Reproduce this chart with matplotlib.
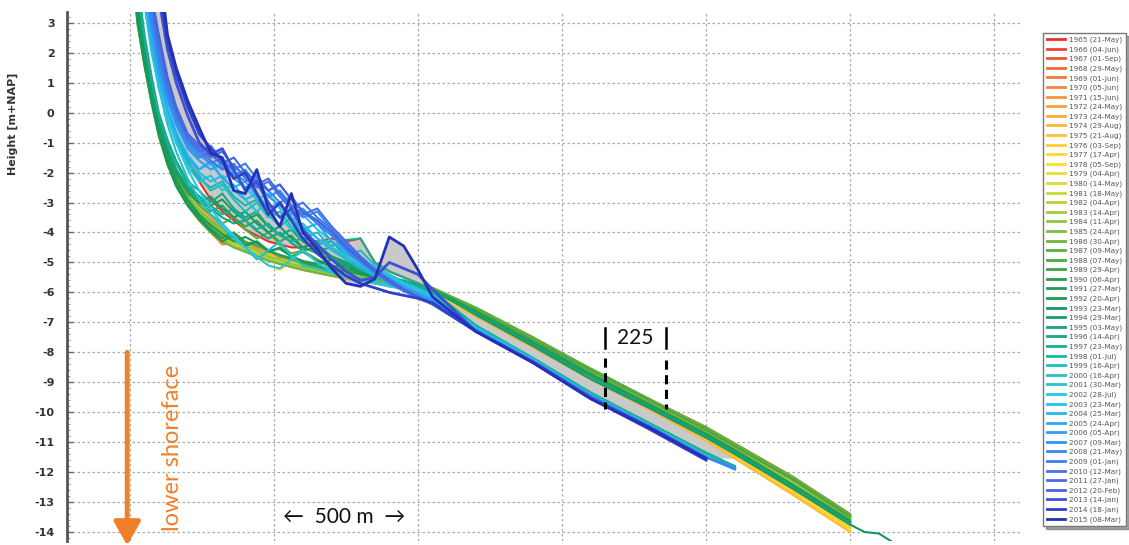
import numpy as np
import matplotlib.pyplot as plt
from matplotlib.colors import LinearSegmentedColormap
from matplotlib.ticker import MultipleLocator

plt.rcParams['axes.unicode_minus'] = False

nan = np.nan

# distance along the profile [m]: steep upper part and smooth lower part
dist_near = [0, 25, 50, 75, 100, 130, 160, 200, 240, 280, 320, 360, 400, 440,
             480, 520, 560, 600, 650, 700, 750, 800, 850, 900, 950, 1000, 1050]
dist_far = [1200, 1400, 1600, 1800, 2000, 2100, 2300, 2500, 2550, 2600, 2650]

years = list(range(1965, 2016))
dates = ['21-May', '04-Jun', '01-Sep', '29-May', '01-Jun', '05-Jun', '15-Jun', '24-May', '24-May', '29-Aug',
         '21-Aug', '03-Sep', '17-Apr', '05-Sep', '04-Apr', '14-May', '18-May', '04-Apr', '14-Apr', '11-Apr',
         '24-Apr', '30-Apr', '09-May', '07-May', '29-Apr', '06-Apr', '27-Mar', '20-Apr', '23-Mar', '29-Mar',
         '03-May', '14-Apr', '23-May', '01-Jul', '16-Apr', '16-Apr', '30-Mar', '28-Jul', '23-Mar', '25-Mar',
         '24-Apr', '05-Apr', '09-Mar', '21-May', '01-Jan', '12-Mar', '27-Jan', '20-Feb', '14-Jan', '18-Jan',
         '08-Mar']

# heights [m+NAP] at dist_near
near_1965_1979 = [
    [9.0, 8.0, 6.0, 3.5, 0.8, -0.05, -0.75, -1.6, -2.3, -2.9, -3.3, -3.6, -3.9, -4.1, -4.3, -4.4, -4.5, -4.5, -4.3, -4.2, -4.3, -4.2, -5.0, -5.3, -5.5, -5.7, -5.9],
    [6.0, 3.2, 1.7, 0.4, -0.7, -1.6, -2.3, -2.9, -3.5, -3.9, -4.35, -4.3, -4.6, -4.7, -4.9, -5.0, -5.1, -5.2, -5.3, -5.4, -5.5, -5.6, -5.7, -5.75, -5.8, -5.85, -5.95],
    [6.5, 3.7, 2.0, 0.7, -0.4, -1.4, -2.1, -2.8, -3.3, -3.8, -4.1, -4.4, -4.5, -4.75, -4.85, -5.0, -5.05, -5.15, -5.25, -5.35, -5.45, -5.55, -5.65, -5.7, -5.8, -5.85, -5.95],
    [6.2, 3.4, 1.8, 0.5, -0.6, -1.5, -2.2, -2.9, -3.4, -3.7, -4.2, -4.3, -4.5, -4.6, -4.8, -4.95, -5.1, -5.2, -5.25, -5.4, -5.5, -5.55, -5.65, -5.75, -5.8, -5.9, -6.0],
    [6.8, 4.0, 2.2, 0.9, -0.3, -1.3, -2.0, -2.7, -3.2, -3.6, -4.0, -4.2, -4.4, -4.55, -4.7, -4.9, -5.0, -5.1, -5.2, -5.3, -5.4, -5.5, -5.6, -5.7, -5.75, -5.85, -5.95],
    [6.0, 3.0, 1.6, 0.3, -0.75, -1.7, -2.4, -3.1, -3.6, -4.0, -4.4, -4.35, -4.6, -4.75, -4.9, -5.05, -5.15, -5.25, -5.35, -5.45, -5.55, -5.6, -5.7, -5.8, -5.85, -5.9, -6.0],
    [7.0, 4.3, 2.4, 1.0, -0.2, -1.2, -1.9, -2.6, -3.1, -3.5, -3.9, -4.1, -4.35, -4.5, -4.7, -4.85, -4.95, -5.05, -5.2, -5.3, -5.4, -5.5, -5.6, -5.7, -5.75, -5.85, -5.95],
    [6.3, 3.5, 1.9, 0.6, -0.5, -1.5, -2.2, -2.8, -3.3, -3.7, -4.0, -4.3, -4.45, -4.6, -4.8, -4.9, -5.05, -5.15, -5.3, -5.4, -5.5, -5.6, -5.7, -5.75, -5.85, -5.9, -6.0],
    [6.6, 3.8, 2.1, 0.8, -0.35, -1.35, -2.05, -2.75, -3.25, -3.65, -4.05, -4.25, -4.5, -4.65, -4.8, -4.95, -5.05, -5.15, -5.25, -5.35, -5.45, -5.55, -5.65, -5.7, -5.8, -5.9, -6.0],
    [6.1, 3.3, 1.75, 0.45, -0.65, -1.6, -2.3, -2.95, -3.45, -3.85, -4.2, -4.4, -4.55, -4.7, -4.9, -5.0, -5.15, -5.25, -5.35, -5.45, -5.5, -5.6, -5.7, -5.8, -5.85, -5.95, -6.05],
    [6.4, 3.6, 2.0, 0.65, -0.45, -1.45, -2.15, -2.85, -3.35, -3.75, -4.1, -4.35, -4.5, -4.65, -4.85, -5.0, -5.1, -5.2, -5.3, -5.4, -5.5, -5.6, -5.7, -5.75, -5.85, -5.95, -6.05],
    [6.9, 4.1, 2.3, 0.95, -0.25, -1.25, -2.0, -2.7, -3.2, -3.6, -3.95, -4.2, -4.45, -4.6, -4.75, -4.9, -5.0, -5.1, -5.25, -5.35, -5.45, -5.55, -5.65, -5.75, -5.8, -5.9, -6.0],
    [6.2, 3.4, 1.85, 0.55, -0.55, -1.55, -2.25, -2.9, -3.4, -3.75, -4.1, -4.4, -4.6, -4.85, -5.1, -5.25, -5.0, -5.1, -5.2, -5.3, -5.45, -5.55, -5.6, -5.7, -5.8, -5.9, -6.0],
    [6.7, 3.9, 2.2, 0.85, -0.3, -1.3, -2.05, -2.75, -3.25, -3.7, -4.05, -4.3, -4.5, -4.6, -4.8, -4.95, -5.05, -5.15, -5.25, -5.35, -5.45, -5.5, -5.6, -5.7, -5.8, -5.85, -5.95],
    [6.0, 3.1, 1.6, 0.35, -0.75, -1.7, -2.4, -3.0, -3.5, -3.9, -4.3, -4.4, -4.6, -4.7, -4.9, -5.0, -5.1, -5.2, -5.3, -5.4, -5.5, -5.55, -5.65, -5.75, -5.8, -5.9, -6.0],
]
near_1980_1994 = [
    [6.5, 3.7, 2.05, 0.7, -0.4, -1.4, -2.1, -2.8, -3.3, -3.7, -4.05, -4.25, -4.5, -4.65, -4.8, -4.95, -5.05, -5.15, -5.25, -5.35, -5.45, -5.55, -5.65, -5.7, -5.8, -5.9, -6.0],
    [6.8, 4.0, 2.25, 0.9, -0.25, -1.25, -2.0, -2.7, -3.2, -3.6, -3.95, -4.2, -4.4, -4.6, -4.75, -4.9, -5.0, -5.1, -5.2, -5.3, -5.4, -5.5, -5.6, -5.7, -5.75, -5.85, -5.95],
    [6.3, 3.5, 1.9, 0.6, -0.5, -1.5, -2.2, -2.85, -3.35, -3.8, -4.15, -4.35, -4.55, -4.7, -4.85, -5.0, -5.1, -5.2, -5.3, -5.4, -5.5, -5.6, -5.65, -5.75, -5.8, -5.9, -5.95],
    [6.1, 3.2, 1.7, 0.4, -0.7, -1.65, -2.35, -3.0, -3.5, -3.85, -4.2, -4.45, -4.6, -4.75, -4.9, -5.05, -5.15, -5.2, -5.3, -5.4, -5.5, -5.6, -5.7, -5.75, -5.8, -5.85, -5.95],
    [6.6, 3.8, 2.1, 0.75, -0.4, -1.4, -2.1, -2.75, -3.3, -3.65, -4.0, -4.3, -4.45, -4.6, -4.8, -4.9, -5.05, -5.15, -5.25, -5.35, -5.45, -5.5, -5.6, -5.7, -5.75, -5.85, -5.9],
    [6.4, 3.6, 2.0, 0.65, -0.45, -1.45, -2.15, -2.8, -3.25, -3.6, -3.9, -4.2, -4.35, -4.4, -4.6, -4.75, -4.9, -5.05, -5.2, -5.3, -5.4, -5.5, -5.6, -5.65, -5.7, -5.8, -5.85],
    [6.0, 3.0, 1.55, 0.3, -0.8, -1.75, -2.45, -3.1, -3.6, -4.0, -4.3, -4.5, -4.65, -4.8, -4.95, -5.05, -5.15, -5.25, -5.35, -5.45, -5.5, -5.55, -5.6, -5.65, -5.7, -5.75, -5.85],
    [6.7, 3.9, 2.2, 0.85, -0.3, -1.3, -2.0, -2.6, -3.1, -3.4, -3.7, -3.5, -3.9, -4.2, -4.0, -4.4, -4.7, -4.6, -4.9, -5.1, -5.25, -5.4, -5.5, -5.6, -5.65, -5.75, -5.85],
    [6.2, 3.3, 1.8, 0.5, -0.6, -1.55, -2.3, -2.95, -3.45, -3.85, -4.15, -4.0, -4.3, -4.45, -4.6, -4.8, -4.9, -5.0, -5.1, -5.2, -5.3, -5.4, -5.5, -5.6, -5.7, -5.8, -5.9],
    [6.5, 3.7, 2.05, 0.7, -0.4, -1.4, -2.1, -2.7, -3.0, -3.3, -3.1, -3.5, -3.8, -3.6, -4.0, -4.3, -4.1, -4.5, -4.7, -4.9, -5.1, -5.3, -5.45, -5.6, -5.7, -5.8, -5.9],
    [6.1, 3.2, 1.65, 0.4, -0.7, -1.7, -2.4, -3.05, -3.5, -3.9, -4.2, -4.0, -4.4, -4.3, -4.6, -4.75, -4.85, -5.0, -5.15, -5.25, -5.3, -5.4, -5.5, -5.6, -5.7, -5.8, -5.9],
    [6.8, 4.0, 2.3, 0.95, -0.2, -1.2, -1.9, -2.5, -2.8, -3.1, -2.9, -3.3, -3.6, -3.4, -3.8, -4.1, -3.9, -4.3, -4.6, -4.8, -5.0, -5.2, -5.35, -5.5, -5.65, -5.8, -5.9],
    [6.3, 3.5, 1.9, 0.6, -0.5, -1.5, -2.25, -2.9, -3.4, -3.75, -4.05, -4.3, -4.15, -4.35, -4.6, -4.55, -4.8, -4.95, -5.05, -4.9, -5.2, -5.35, -5.5, -5.6, -5.7, -5.8, -5.95],
    [6.0, 3.1, 1.6, 0.35, -0.75, -1.7, -2.45, -3.1, -3.55, -3.95, -4.3, -4.1, -4.45, -4.3, -4.65, -4.5, -4.8, -4.65, -4.95, -5.15, -5.1, -5.35, -5.45, -5.6, -5.65, -5.8, -5.9],
    [6.6, 3.8, 2.15, 0.8, -0.35, -1.3, -2.0, -2.6, -3.0, -2.8, -3.2, -3.5, -3.3, -3.7, -4.0, -3.8, -4.2, -4.5, -4.4, -4.8, -5.0, -5.2, -5.4, -5.55, -5.65, -5.75, -5.9],
]
near_1995_2004 = [
    [6.9, 4.2, 2.4, 1.05, -0.15, -1.15, -1.9, -2.5, -2.9, -3.2, -3.5, -3.7, -3.6, -3.95, -4.2, -4.0, -4.35, -4.6, -4.5, -4.85, -5.05, -5.25, -5.4, -5.5, -5.6, -5.75, -5.9],
    [7.2, 4.5, 2.6, 1.2, 0.0, -0.9, -1.6, -2.3, -2.6, -3.0, -2.7, -3.2, -3.5, -3.3, -3.8, -4.1, -3.9, -4.3, -4.6, -4.5, -4.9, -5.15, -5.35, -5.5, -5.65, -5.8, -6.0],
    [7.0, 4.3, 2.5, 1.1, -0.1, -1.0, -1.7, -2.4, -2.8, -3.1, -3.4, -3.2, -3.6, -3.9, -3.7, -4.1, -4.3, -4.2, -4.3, -4.45, -4.25, -4.2, -5.0, -5.3, -5.5, -5.7, -5.95],
    [8.0, 6.0, 4.0, 2.4, 1.2, 0.0, -0.8, -1.6, -2.2, -2.5, -2.3, -2.8, -3.1, -2.9, -3.4, -3.8, -3.5, -4.0, -4.4, -4.3, -4.8, -5.1, -5.35, -5.55, -5.7, -5.85, -6.05],
    [7.8, 5.7, 3.8, 2.2, 1.0, -0.1, -0.9, -1.7, -2.1, -2.6, -2.4, -2.9, -3.3, -3.0, -3.5, -3.3, -3.8, -4.2, -4.0, -4.5, -4.8, -4.6, -5.1, -5.4, -5.65, -5.85, -6.1],
    [7.5, 5.4, 3.6, 2.0, 0.8, -0.4, -1.3, -2.2, -2.9, -3.4, -3.8, -4.2, -4.5, -4.9, -4.6, -4.3, -4.8, -5.1, -5.2, -5.35, -5.45, -5.55, -5.65, -5.75, -5.85, -6.0, -6.15],
    [7.6, 5.5, 3.7, 2.1, 0.9, -0.2, -1.0, -1.8, -2.3, -2.1, -2.6, -2.4, -2.9, -3.3, -3.0, -3.5, -3.9, -3.7, -4.2, -4.5, -4.8, -5.1, -5.35, -5.55, -5.75, -5.9, -6.1],
    [7.9, 5.9, 3.9, 2.3, 1.1, -0.1, -1.0, -1.9, -2.6, -3.2, -3.7, -4.1, -4.5, -4.8, -5.1, -5.2, -4.9, -4.6, -5.0, -5.3, -5.5, -5.6, -5.7, -5.8, -5.9, -6.0, -6.2],
    [8.1, 6.2, 4.1, 2.5, 1.25, 0.1, -0.7, -1.4, -1.9, -1.7, -2.2, -2.0, -2.5, -2.9, -2.7, -3.2, -3.6, -3.4, -3.9, -4.3, -4.6, -4.9, -5.2, -5.45, -5.7, -5.9, -6.2],
    [8.2, 6.3, 4.2, 2.6, 1.3, 0.15, -0.65, -1.5, -2.0, -2.3, -2.1, -2.6, -2.9, -2.7, -3.2, -3.5, -3.3, -3.8, -4.2, -4.6, -4.9, -5.2, -5.45, -5.65, -5.85, -6.05, -6.25],
]
near_2005_2015 = [
    [8.0, 6.0, 4.0, 2.4, 1.2, 0.1, -0.7, -1.5, -1.9, -1.6, -2.2, -2.5, -2.3, -2.8, -3.2, -3.0, -3.5, -3.9, -3.7, -4.3, -4.7, -5.0, -5.3, -5.55, -5.8, -6.0, -6.25],
    [8.3, 6.5, 4.4, 2.8, 1.5, 0.4, -0.4, -1.2, -1.6, -1.9, -1.7, -2.2, -2.5, -2.3, -2.8, -3.1, -3.4, -3.2, -3.7, -4.1, -4.5, -4.9, -5.3, -5.6, -5.85, -6.05, -6.3],
    [8.4, 6.6, 4.5, 2.9, 1.6, 0.45, -0.35, -1.1, -1.5, -1.3, -1.8, -2.1, -1.9, -2.4, -2.8, -2.6, -3.1, -3.5, -3.3, -3.9, -4.4, -4.8, -5.2, -5.55, -5.85, -6.1, -6.3],
    [8.5, 6.8, 4.7, 3.1, 1.8, 0.6, -0.2, -1.0, -1.4, -1.7, -1.5, -2.0, -2.3, -2.1, -2.6, -3.0, -2.8, -3.3, -3.7, -4.1, -4.6, -5.0, -5.35, -5.7, -5.95, -6.15, -6.35],
    [8.6, 7.0, 5.0, 3.3, 2.0, 0.75, -0.1, -0.9, -1.3, -1.1, -1.6, -1.9, -1.7, -2.2, -2.6, -2.4, -2.9, -3.3, -3.6, -4.0, -4.5, -4.9, -5.3, -5.65, -5.95, -6.15, -6.35],
    [8.7, 7.2, 5.2, 3.5, 2.2, 0.9, 0.0, -0.85, -1.3, -1.6, -1.9, -1.7, -2.2, -2.5, -2.3, -2.8, -3.2, -3.0, -3.5, -3.9, -4.4, -4.9, -5.3, -5.65, -5.95, -6.2, -6.4],
    [8.8, 7.4, 5.4, 3.7, 2.4, 1.0, 0.05, -0.8, -1.2, -1.5, -1.3, -1.8, -2.1, -2.4, -2.2, -2.7, -3.1, -3.4, -3.2, -3.8, -4.3, -4.8, -5.25, -5.6, -5.9, -6.15, -6.4],
    [9.0, 7.6, 5.6, 3.9, 2.6, 1.2, 0.2, -0.7, -1.1, -1.4, -1.7, -1.5, -2.0, -2.3, -2.6, -2.4, -2.9, -3.3, -3.6, -4.0, -4.5, -4.9, -5.3, -5.6, -5.9, -6.15, -6.4],
    [9.5, 8.5, 7.0, 5.5, 3.8, 2.1, 1.0, -0.1, -1.0, -1.4, -1.2, -1.9, -2.6, -2.3, -3.0, -3.5, -3.2, -3.9, -4.4, -4.9, -5.3, -5.6, -5.5, -5.0, -5.2, -5.4, -5.9],
    [9.5, 8.7, 7.3, 5.8, 4.2, 2.4, 1.3, 0.2, -0.7, -1.2, -1.6, -2.2, -2.0, -2.7, -3.4, -3.0, -3.6, -4.2, -4.7, -5.1, -5.45, -5.7, -5.85, -6.0, -6.1, -6.2, -6.35],
    [9.8, 9.0, 7.8, 6.4, 5.0, 2.6, 1.5, 0.4, -0.5, -1.35, -1.5, -2.6, -2.7, -1.9, -3.2, -3.8, -2.7, -4.0, -4.55, -5.2, -5.7, -5.8, -5.55, -4.15, -4.45, -5.25, -6.15],
]

# heights [m+NAP] at dist_far
far_1965_1979 = [
    [-6.6, -7.6, -8.6, -9.55, -10.5, -11.05, -12.15, -13.4, nan, nan, nan],
    [-6.6, -7.6, -8.6, -9.55, -10.55, -11.1, -12.2, -13.45, nan, nan, nan],
    [-6.65, -7.65, -8.65, -9.6, -10.6, -11.15, -12.25, -13.5, nan, nan, nan],
    [-6.65, -7.65, -8.7, -9.65, -10.65, -11.2, -12.3, -13.5, nan, nan, nan],
    [-6.6, -7.65, -8.65, -9.6, -10.6, -11.15, -12.3, -13.55, nan, nan, nan],
    [-6.7, -7.7, -8.75, -9.7, -10.7, -11.25, -12.4, -13.6, nan, nan, nan],
    [-6.65, -7.7, -8.75, -9.7, -10.75, -11.3, -12.45, -13.65, nan, nan, nan],
    [-6.7, -7.75, -8.8, -9.8, -10.85, -11.4, -12.6, -13.85, nan, nan, nan],
    [-6.75, -7.8, -8.85, -9.85, -10.9, -11.45, -12.65, -13.9, nan, nan, nan],
    [-6.8, -7.85, -8.9, -9.9, -10.95, -11.55, -12.75, -14.0, nan, nan, nan],
    [-6.75, -7.8, -8.85, -9.85, -10.9, -11.5, -12.7, -13.95, nan, nan, nan],
    [-6.75, -7.8, -8.85, -9.85, -10.85, -11.45, -12.65, -13.95, nan, nan, nan],
    [-6.7, -7.75, -8.8, -9.8, -10.85, -11.4, -12.6, -13.9, nan, nan, nan],
    [-6.65, -7.7, -8.75, -9.75, -10.8, -11.35, -12.5, -13.8, nan, nan, nan],
    [-6.7, -7.75, -8.8, -9.75, -10.8, -11.35, -12.5, -13.8, nan, nan, nan],
]
far_1980_1994 = [
    [-6.7, -7.75, -8.8, -9.75, -10.8, -11.35, -12.5, -13.75, nan, nan, nan],
    [-6.65, -7.7, -8.75, -9.7, -10.75, -11.3, -12.45, -13.7, nan, nan, nan],
    [-6.6, -7.65, -8.7, -9.65, -10.65, -11.2, -12.35, -13.6, nan, nan, nan],
    [-6.6, -7.6, -8.65, -9.6, -10.6, -11.15, -12.3, -13.55, nan, nan, nan],
    [-6.6, -7.6, -8.6, -9.6, -10.55, -11.1, -12.25, -13.5, nan, nan, nan],
    [-6.55, -7.55, -8.55, -9.55, -10.55, -11.1, -12.2, -13.45, nan, nan, nan],
    [-6.55, -7.55, -8.55, -9.55, -10.5, -11.05, -12.15, -13.4, nan, nan, nan],
    [-6.5, -7.5, -8.55, -9.55, -10.55, -11.1, -12.2, -13.45, nan, nan, nan],
    [-6.6, -7.6, -8.6, -9.6, -10.6, -11.15, -12.25, -13.5, nan, nan, nan],
    [-6.6, -7.65, -8.7, -9.7, -10.7, -11.25, -12.4, -13.6, nan, nan, nan],
    [-6.65, -7.7, -8.75, -9.75, -10.75, -11.3, -12.45, -13.65, nan, nan, nan],
    [-6.65, -7.7, -8.75, -9.75, -10.75, -11.3, -12.45, -13.65, nan, nan, nan],
    [-6.7, -7.75, -8.8, -9.8, -10.8, -11.35, -12.5, -13.7, nan, nan, nan],
    [-6.75, -7.8, -8.9, -9.85, -10.85, -11.4, -12.55, -13.75, -14.0, -14.05, -14.35],
    [-6.7, -7.75, -8.8, -9.8, -10.8, -11.35, -12.5, -13.7, nan, nan, nan],
]
far_1995_2004 = [
    [-6.7, -7.75, -8.8, -9.8, -10.8, -11.35, -12.5, -13.7, nan, nan, nan],
    [-7.1, -8.2, -9.35, -10.35, -11.35, -11.8, nan, nan, nan, nan, nan],
    [-7.1, -8.2, -9.35, -10.35, -11.4, -11.8, nan, nan, nan, nan, nan],
    [-7.15, -8.2, -9.4, -10.4, -11.4, -11.85, nan, nan, nan, nan, nan],
    [-7.15, -8.25, -9.4, -10.4, -11.45, -11.85, nan, nan, nan, nan, nan],
    [-7.2, -8.25, -9.45, -10.4, -11.45, -11.9, nan, nan, nan, nan, nan],
    [-7.2, -8.25, -9.45, -10.45, -11.45, -11.9, nan, nan, nan, nan, nan],
    [-7.2, -8.3, -9.45, -10.45, -11.5, -11.9, nan, nan, nan, nan, nan],
    [-7.2, -8.3, -9.45, -10.45, -11.5, -11.9, nan, nan, nan, nan, nan],
    [-7.25, -8.3, -9.5, -10.45, -11.5, -11.9, nan, nan, nan, nan, nan],
]
far_2005_2015 = [
    [-7.25, -8.3, -9.5, -10.5, -11.5, -11.9, nan, nan, nan, nan, nan],
    [-7.25, -8.3, -9.5, -10.5, -11.5, -11.85, nan, nan, nan, nan, nan],
    [-7.25, -8.3, -9.5, -10.45, -11.5, -11.9, nan, nan, nan, nan, nan],
    [-7.25, -8.3, -9.5, -10.5, -11.5, -11.85, nan, nan, nan, nan, nan],
    [-7.25, -8.3, -9.45, -10.45, -11.5, nan, nan, nan, nan, nan, nan],
    [-7.3, -8.3, -9.5, -10.45, -11.5, nan, nan, nan, nan, nan, nan],
    [-7.3, -8.3, -9.5, -10.5, -11.55, nan, nan, nan, nan, nan, nan],
    [-7.3, -8.3, -9.5, -10.5, -11.55, nan, nan, nan, nan, nan, nan],
    [-7.3, -8.35, -9.55, -10.5, -11.55, nan, nan, nan, nan, nan, nan],
    [-7.3, -8.35, -9.55, -10.55, -11.6, nan, nan, nan, nan, nan, nan],
    [-7.3, -8.35, -9.55, -10.5, -11.55, nan, nan, nan, nan, nan, nan],
]

near = near_1965_1979 + near_1980_1994 + near_1995_2004 + near_2005_2015
far = far_1965_1979 + far_1980_1994 + far_1995_2004 + far_2005_2015
dist = np.array(dist_near + dist_far, dtype=float)
heights = [np.array(n + f, dtype=float) for n, f in zip(near, far)]

# colour ramp red -> yellow -> green -> cyan -> dark blue
ramp = LinearSegmentedColormap.from_list('years', [
    '#E8302A', '#F26B3A', '#F7983E', '#FDBA3A', '#FFE02A', '#CFD93E', '#96C640',
    '#5DAE3F', '#2E9B4A', '#11995F', '#16AA8C', '#1FC0C2', '#2BC6EC', '#2AA3F0',
    '#3A82EE', '#4A66E0', '#2430B8'])

orange = '#F07F2A'

fig = plt.figure(figsize=(11.29, 5.45), dpi=100)
ax = fig.add_axes([67 / 1129, 4 / 545, 953 / 1129, 529 / 545])

# grey band between first and last survey (last survey stops earlier)
first = heights[0]
last = heights[-1]
low = np.where(np.isnan(last), heights[years.index(1974)], last)
ax.fill_between(dist, first, low, color='#C9C9C9', lw=0, zorder=1)

handles = []
for i, (yr, d, h) in enumerate(zip(years, dates, heights)):
    lw = 2.0 if yr >= 2013 else 1.5
    ln, = ax.plot(dist, h, color=ramp(i / (len(years) - 1)), lw=lw,
                  solid_joinstyle='round', zorder=2 + i * 0.01,
                  label=f'{yr} ({d})')
    handles.append(ln)

ax.set_xlim(-219, 3090)
ax.set_ylim(-14.3, 3.36)
ax.set_xticks(np.arange(0, 3001, 500))
ax.set_xticklabels([])
ax.set_yticks(np.arange(-14, 4, 1))
ax.yaxis.set_minor_locator(MultipleLocator(0.2))
ax.tick_params(axis='x', length=0)
ax.tick_params(axis='y', which='major', direction='in', length=4, width=1,
               color='#666666', pad=9, labelsize=8, labelcolor='#333333')
ax.tick_params(axis='y', which='minor', direction='in', length=2.5, width=0.6,
               color='#888888')
for lab in ax.get_yticklabels():
    lab.set_fontweight('bold')
ax.grid(True, which='major', color='#AAAAAA', linestyle=(0, (2, 2)), lw=0.9)
ax.set_axisbelow(True)
for s in ['top', 'right', 'bottom']:
    ax.spines[s].set_visible(False)
ax.spines['left'].set_color('#555555')
ax.spines['left'].set_linewidth(2)

ax.set_ylabel('Height [m+NAP]', fontsize=8, fontweight='bold', color='#333333')
ax.yaxis.set_label_coords(-0.0514, 0.788)

# 225 m annotation
for xd, ytop in [(1649, -8.2), (1861, -8.27)]:
    ax.plot([xd, xd], [-7.2, -7.87], color='black', lw=1.8, zorder=5)
    ax.plot([xd, xd], [ytop, -9.9], color='black', lw=2.2,
            linestyle=(0, (3, 1.8)), zorder=5)
ax.text(1755, -7.52, '225', ha='center', va='center', fontsize=15,
        family=['Lato', 'DejaVu Sans'], color='#111111', zorder=5)

# scale bar text
ax.text(743, -13.5, '\u2190  500 m  \u2192', ha='center', va='center', fontsize=15,
        family=['Lato', 'DejaVu Sans'], color='#111111', zorder=5)

# lower shoreface arrow
ax.annotate('', xy=(-10, -14.45), xytext=(-10, -8.0),
            arrowprops=dict(arrowstyle='-|>,head_length=0.8,head_width=0.45',
                            color=orange, lw=3.5, mutation_scale=18,
                            shrinkA=0, shrinkB=0),
            annotation_clip=False, zorder=6)
ax.text(146, -11.2, 'lower shoreface', rotation=90, ha='center', va='center',
        fontsize=17, color=orange, family=['Lato', 'DejaVu Sans'], zorder=6)

leg = fig.legend(handles=handles, loc='upper left',
                 bbox_to_anchor=(1043 / 1129, 1 - 33 / 545),
                 fontsize=5.2, labelspacing=0.42, handlelength=2.5,
                 handletextpad=0.6, borderpad=0.5, frameon=True, fancybox=False,
                 shadow=True, edgecolor='#777777', borderaxespad=0)
leg.get_frame().set_linewidth(1)
for t in leg.get_texts():
    t.set_color('#555555')
for l in leg.get_lines():
    l.set_linewidth(2)

fig.savefig('out.png', dpi=100)
